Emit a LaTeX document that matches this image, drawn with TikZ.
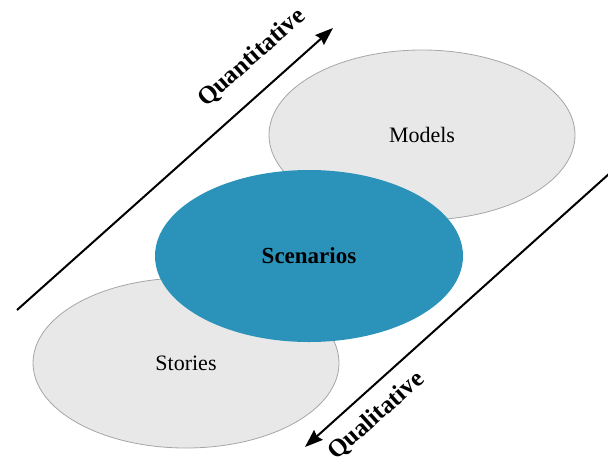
\documentclass[tikz,border=0pt]{standalone}
\usepackage{fontspec}
\setmainfont{Liberation Serif}
\usepackage{xcolor}
\usetikzlibrary{shapes.geometric}
\usetikzlibrary{arrows.meta}
\usetikzlibrary{positioning}

\definecolor{scenblue}{RGB}{43,147,186}
\definecolor{cloudgray}{RGB}{232,232,232}

\begin{document}
\begin{tikzpicture}[
    x=0.5pt, y=-0.5pt,
    cloud/.style={ellipse, draw=gray!70, line width=0.4pt, fill=cloudgray,
      minimum width=153pt, minimum height=85pt, inner sep=0pt, font=\fontsize{11}{13}\selectfont},
    core/.style={ellipse, fill=scenblue, minimum width=154pt, minimum height=86pt,
      inner sep=0pt, font=\fontsize{11.5}{13}\selectfont\bfseries},
    axis/.style={line width=1pt, color=black},
    axislabel/.style={sloped, inner sep=0pt, font=\fontsize{12.5}{14}\selectfont\bfseries},
  ]
  \tikzset{>={Stealth[length=9pt, width=6.5pt, inset=1pt]}}
  \useasboundingbox (0,0) rectangle (608,465);

  % Ellipses
  \node[cloud] (models)  at (422,135) {Models};
  \node[cloud] (stories) at (186,363) {Stories};
  \node[core]  (scen)    at (309,256) {Scenarios};

  % Axis end points
  \coordinate (qn0) at (17,310);
  \coordinate (qn1) at (333,28);
  \coordinate (ql0) at (305,447);
  \coordinate (ql1) at (610,173);

  % Arrows
  \draw[axis, ->] (qn0) -- (qn1)
    node[axislabel, pos=0.81, above=10pt] {Quantitative};
  \draw[axis, <-] (ql0) -- (ql1)
    node[axislabel, pos=0.18, below=6.5pt] {Qualitative};

\end{tikzpicture}
\end{document}
